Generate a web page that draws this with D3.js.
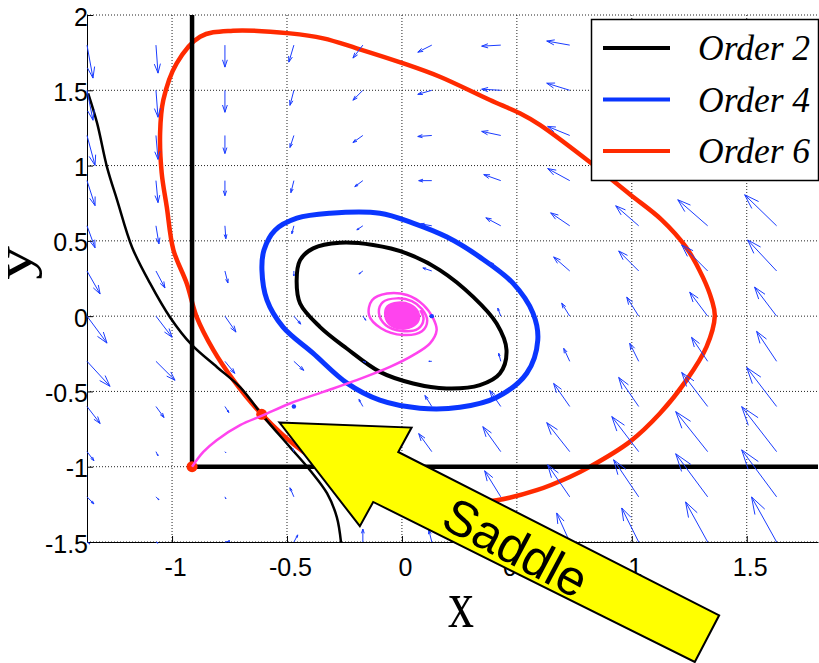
<!DOCTYPE html>
<html lang="en">
<head>
  <meta charset="UTF-8">
  <title>Saddle - phase portrait</title>
  <script src="https://cdnjs.cloudflare.com/ajax/libs/d3/7.8.5/d3.min.js"></script>
  <style>
    body {
      margin: 0;
      background: white;
    }
    svg {
      display: block;
      background: white;
    }
  </style>
</head>
<body>
  <script>
    // quiver grid (data units) and field values in hundredths of a data unit
    var xGrid = [-1.37, -1.07, -0.77, -0.47, -0.17, 0.13, 0.43, 0.73, 1.03, 1.33, 1.63];
    var yGrid = [1.8, 1.5, 1.2, 0.9, 0.6, 0.3, 0, -0.3, -0.6, -0.9, -1.2, -1.5];

    var U = [
      [2.6, 0.9, 0, -2.2, -4.3, -6.1, -8.3, -10, -12.2, -14.3, -16.5],
      [2.6, 0.9, 0, -1.7, -4.3, -6.1, -8.3, -10, -12.2, -14.3, -16.5],
      [3.5, 0.9, 0, -1.7, -4.3, -6.1, -8.3, -9.6, -11.7, -13.9, -16.1],
      [3.5, 0.9, 0, -1.3, -3.5, -5.7, -7.4, -9.6, -10.9, -12.6, -13.9],
      [3.5, 1.3, 0.4, -0.9, -2.6, -4.8, -6.5, -8.3, -10, -13, -13.9],
      [5.7, 3.9, 1.3, 0, -1.7, -3.9, -5.2, -7, -8.7, -11.3, -12.6],
      [8.7, 7, 4.8, 3, 1.3, 0, -1.3, -3.5, -5.2, -7.8, -9.6],
      [10, 8.3, 4.3, 4.3, 1.3, -1.3, -0.9, -2.6, -3.9, -7, -8.7],
      [5.7, 3.5, 1.7, 0, -1.7, -3, -4.8, -7, -8.7, -11.3, -13],
      [3, 0.9, 0.4, -0.4, -3.5, -5.7, -7.8, -10, -11.7, -13.9, -15.2],
      [3, 1.3, 0.4, -1.7, -2.2, -4.3, -7, -9.6, -10.9, -13.9, -15.2],
      [1.3, 0.9, 2.2, 1.7, 0, -1.3, -3.5, -5.7, -7.4, -9.6, -10.9]
    ];
    var V = [
      [-21.9, -18.6, -14.6, -11.3, -8.6, -4.7, -0.7, 2.7, 4.7, 6, 7.3],
      [-19.9, -17.9, -14.6, -10, -6.6, -2.7, 0.7, 4.7, 6.6, 8.6, 10.6],
      [-19.9, -15.9, -12, -8, -4.7, -0.7, 2.7, 6, 8.6, 11.3, 14],
      [-16.6, -14.6, -10, -8, -4, 0, 4, 8, 10.6, 14, 17.3],
      [-14.6, -12, -8.6, -5.3, -2.7, 1.3, 5.3, 8.6, 13.3, 17.3, 20.6],
      [-15.3, -11.3, -8, -3.3, -2, 2, 6, 9.3, 13.3, 17.3, 20.6],
      [-17.9, -14, -10.6, -5.3, -2.7, 0, 5.3, 8.6, 12.6, 15.9, 19.3],
      [-16.6, -12.6, -8, -6, -0.7, 0, 5.3, 8.6, 12, 15.9, 19.9],
      [-11.3, -7.3, -4, 0, 4.7, 7.3, 10.6, 15.3, 19.3, 22.6, 25.9],
      [-6, -2.7, -0.7, 2, 8, 12, 16.6, 19.3, 23.3, 26.6, 29.9],
      [-4.7, -2, -1.3, 6, 9.3, 13.3, 17.3, 21.3, 24.6, 28.6, 31.2],
      [-1.3, -0.7, 0.7, 4.7, 8.6, 8, 14.6, 19.3, 22.6, 26.6, 29.9]
    ];

    // level curves (x, y pairs)
    var order2 = [
      [-0.458, 0.239], [-0.443, 0.372], [-0.386, 0.450], [-0.270, 0.487], [-0.125, 0.472],
      [0.020, 0.417], [0.165, 0.306], [0.310, 0.128], [0.412, -0.049], [0.455, -0.226],
      [0.426, -0.381], [0.339, -0.458], [0.194, -0.480], [0.049, -0.447], [-0.096, -0.370],
      [-0.240, -0.215], [-0.357, -0.071], [-0.443, 0.084]
    ];
    var order2Branch = [
      [-1.365, 1.48], [-1.326, 1.282], [-1.283, 0.990], [-1.239, 0.771], [-1.174, 0.458],
      [-1.096, 0.219], [-1.009, -0.007], [-0.913, -0.193], [-0.804, -0.339], [-0.704, -0.472],
      [-0.604, -0.664], [-0.487, -0.870], [-0.400, -1.023], [-0.326, -1.176], [-0.283, -1.336],
      [-0.265, -1.502]
    ];
    var order4 = [
      [-0.313, 0.684], [-0.096, 0.684], [0.048, 0.618], [0.196, 0.525], [0.339, 0.392],
      [0.483, 0.219], [0.570, 0.020], [0.591, -0.159], [0.543, -0.379], [0.413, -0.538],
      [0.252, -0.605], [0.078, -0.611], [-0.096, -0.558], [-0.239, -0.445], [-0.387, -0.246],
      [-0.517, -0.073], [-0.587, 0.106], [-0.609, 0.306], [-0.600, 0.439], [-0.552, 0.571],
      [-0.457, 0.651]
    ];
    var order6 = [
      [-0.487, 1.878], [-0.735, 1.896], [-0.878, 1.856], [-0.980, 1.679], [-1.038, 1.435],
      [-1.052, 1.216], [-1.045, 0.950], [-1.023, 0.726], [-0.994, 0.439], [-0.936, 0.217],
      [-0.893, -0.005], [-0.820, -0.226], [-0.733, -0.425], [-0.617, -0.640], [-0.430, -0.900],
      [-0.226, -1.080], [0.078, -1.215], [0.300, -1.235], [0.412, -1.223], [0.586, -1.156],
      [0.730, -1.068], [0.817, -1.001], [0.991, -0.835], [1.122, -0.647], [1.238, -0.425],
      [1.325, -0.204], [1.361, 0.0], [1.348, 0.106], [1.309, 0.259], [1.235, 0.460],
      [1.130, 0.640], [0.991, 0.810], [0.803, 1.040], [0.600, 1.270],
      [0.513, 1.347], [0.383, 1.435], [0.165, 1.590], [0.006, 1.679], [-0.197, 1.779],
      [-0.342, 1.845]
    ];

    // trajectory from the corner point into the focus
    var trajectory = [
      [-0.913, -1.0], [-0.864, -0.902], [-0.806, -0.824], [-0.704, -0.724], [-0.603, -0.658],
      [-0.487, -0.580], [-0.342, -0.503], [-0.197, -0.425], [-0.052, -0.337], [0.049, -0.259],
      [0.122, -0.181], [0.151, -0.093], [0.136, -0.015], [0.093, 0.075], [0.022, 0.140],
      [-0.065, 0.150], [-0.130, 0.106], [-0.143, 0.007], [-0.091, -0.080], [0.004, -0.125],
      [0.087, -0.100], [0.110, -0.030], [0.087, 0.047], [0.043, 0.100], [-0.022, 0.118],
      [-0.083, 0.093], [-0.100, 0.020], [-0.070, -0.060], [0.000, -0.098], [0.070, -0.084],
      [0.094, -0.020], [0.080, 0.040]
    ];
    var focusBlob = [
      [-0.065, 0.066], [-0.017, 0.093], [0.035, 0.080], [0.070, 0.033], [0.074, -0.027],
      [0.043, -0.073], [-0.004, -0.086], [-0.052, -0.060], [-0.074, 0.0]
    ];

    var cornerX = -0.913;
    var cornerY = -1;
    var markers = [[-0.913, -1.0], [-0.61, -0.652]];

    var xTicks = [-1, -0.5, 0, 0.5, 1, 1.5];
    var yTicks = [-1.5, -1, -0.5, 0, 0.5, 1, 1.5, 2];

    var legendNames = ["Order 2", "Order 4", "Order 6"];
    var legendColors = ["#000000", "#0a36ff", "#ff2a00"];

    // annotation arrow, data coordinates
    var saddleArrow = [
      [-0.533, -0.706], [0.042, -0.740], [-0.016, -0.902], [1.380, -1.987],
      [1.274, -2.297], [-0.125, -1.234], [-0.183, -1.395]
    ];

    var w = 819;
    var h = 663;

    var svg = d3.select("body").append("svg")
      .attr("width", w)
      .attr("height", h);

    var xScale = d3.scaleLinear()
      .domain([-1.37, 1.81])
      .range([87, 818]);
    var yScale = d3.scaleLinear()
      .domain([-1.5, 2])
      .range([542, 15]);

    // dotted grid
    svg.append("g").selectAll("line")
      .data(xTicks)
      .enter()
      .append("line")
      .attr("x1", function(d) { return xScale(d); })
      .attr("x2", function(d) { return xScale(d); })
      .attr("y1", yScale(2))
      .attr("y2", yScale(-1.5))
      .attr("stroke", "#222")
      .attr("stroke-width", 1)
      .attr("stroke-dasharray", "1,2");
    svg.append("g").selectAll("line")
      .data(yTicks)
      .enter()
      .append("line")
      .attr("x1", xScale(-1.37))
      .attr("x2", xScale(1.81))
      .attr("y1", function(d) { return yScale(d); })
      .attr("y2", function(d) { return yScale(d); })
      .attr("stroke", "#222")
      .attr("stroke-width", 1)
      .attr("stroke-dasharray", "1,2");

    // axes
    var xAxis = d3.axisBottom(xScale)
      .tickValues(xTicks)
      .tickSizeInner(-6)
      .tickSizeOuter(0)
      .tickPadding(16)
      .tickFormat(function(d) { return String(d); });
    var yAxis = d3.axisLeft(yScale)
      .tickValues(yTicks)
      .tickSizeInner(-6)
      .tickSizeOuter(0)
      .tickPadding(0)
      .tickFormat(function(d) { return String(d); });

    var gx = svg.append("g")
      .attr("transform", "translate(0," + yScale(-1.5) + ")")
      .call(xAxis);
    var gy = svg.append("g")
      .attr("transform", "translate(" + xScale(-1.37) + ",0)")
      .call(yAxis);
    [gx, gy].forEach(function(g) {
      g.selectAll("text")
        .attr("font-family", "'Liberation Sans', Arial, sans-serif")
        .attr("font-size", 25)
        .attr("fill", "#000");
      g.selectAll("path, line").attr("stroke", "#000");
    });
    gx.selectAll("text").attr("dx", 3);
    gy.selectAll("text").attr("dx", 1).attr("dy", "0.4em");

    var straightLine = d3.line()
      .x(function(d) { return xScale(d[0]); })
      .y(function(d) { return yScale(d[1]); });
    var closedCurve = d3.line()
      .x(function(d) { return xScale(d[0]); })
      .y(function(d) { return yScale(d[1]); })
      .curve(d3.curveCatmullRomClosed);
    var openCurve = d3.line()
      .x(function(d) { return xScale(d[0]); })
      .y(function(d) { return yScale(d[1]); })
      .curve(d3.curveCatmullRom);

    var curves = svg.append("g").attr("fill", "none").attr("stroke-linejoin", "round");
    curves.append("path").attr("d", closedCurve(order6))
      .attr("stroke", legendColors[2]).attr("stroke-width", 4.5);
    curves.append("path").attr("d", closedCurve(order4))
      .attr("stroke", legendColors[1]).attr("stroke-width", 5);
    curves.append("path").attr("d", closedCurve(order2))
      .attr("stroke", legendColors[0]).attr("stroke-width", 4);
    curves.append("path").attr("d", openCurve(order2Branch))
      .attr("stroke", legendColors[0]).attr("stroke-width", 2.5);

    // thick corner lines
    curves.append("path")
      .attr("d", straightLine([[cornerX, 2], [cornerX, cornerY], [1.81, cornerY]]))
      .attr("stroke", "#000")
      .attr("stroke-width", 4.5)
      .attr("stroke-linejoin", "miter");

    svg.append("g").selectAll("circle")
      .data(markers)
      .enter()
      .append("circle")
      .attr("cx", function(d) { return xScale(d[0]); })
      .attr("cy", function(d) { return yScale(d[1]); })
      .attr("r", 5.5)
      .attr("fill", "#ff2a00");

    var magenta = "#ff44ee";
    svg.append("path")
      .attr("d", openCurve(trajectory))
      .attr("fill", "none")
      .attr("stroke", magenta)
      .attr("stroke-width", 2.5);
    svg.append("path")
      .attr("d", closedCurve(focusBlob))
      .attr("fill", magenta)
      .attr("stroke", magenta)
      .attr("stroke-width", 1.5);

    // quiver
    var arrows = [];
    yGrid.forEach(function(yv, i) {
      xGrid.forEach(function(xv, j) {
        arrows.push({ x: xv, y: yv, u: U[i][j] / 100, v: V[i][j] / 100 });
      });
    });

    var quiver = svg.append("g")
      .attr("stroke", "#1a3cff")
      .attr("fill", "none")
      .attr("stroke-width", 1);

    arrows.forEach(function(a) {
      var x0 = xScale(a.x), y0 = yScale(a.y);
      var x1 = xScale(a.x + a.u), y1 = yScale(a.y + a.v);
      var dx = x1 - x0, dy = y1 - y0;
      if (a.u === 0 && a.v === 0) {
        quiver.append("circle")
          .attr("cx", x0).attr("cy", y0).attr("r", 2.2)
          .attr("fill", "#1a3cff").attr("stroke", "none");
        return;
      }
      var alpha = 0.33, beta = 0.33;
      var hx1 = x1 - alpha * (dx + beta * dy), hy1 = y1 - alpha * (dy - beta * dx);
      var hx2 = x1 - alpha * (dx - beta * dy), hy2 = y1 - alpha * (dy + beta * dx);
      quiver.append("path")
        .attr("d", "M" + x0 + "," + y0 + "L" + x1 + "," + y1 +
          "M" + hx1 + "," + hy1 + "L" + x1 + "," + y1 + "L" + hx2 + "," + hy2);
    });

    // legend
    var legend = svg.append("g");
    legend.append("rect")
      .attr("x", 591.5).attr("y", 19.5)
      .attr("width", 227).attr("height", 161)
      .attr("fill", "white")
      .attr("stroke", "#000")
      .attr("stroke-width", 1.5);
    legendNames.forEach(function(name, i) {
      var ly = 48 + i * 51.5;
      legend.append("line")
        .attr("x1", 603).attr("x2", 670)
        .attr("y1", ly).attr("y2", ly)
        .attr("stroke", legendColors[i])
        .attr("stroke-width", 4);
      legend.append("text")
        .attr("x", 698).attr("y", ly + 12)
        .attr("font-family", "'Liberation Serif', 'Times New Roman', serif")
        .attr("font-style", "italic")
        .attr("font-size", 35.5)
        .text(name);
    });

    // axis titles
    svg.append("text")
      .attr("transform", "translate(461,627) scale(1,1.3)")
      .attr("text-anchor", "middle")
      .attr("font-family", "'Liberation Serif', 'Times New Roman', serif")
      .attr("font-size", 52)
      .text("x");
    svg.append("text")
      .attr("transform", "translate(31,263) rotate(-90) scale(1.35,1)")
      .attr("text-anchor", "middle")
      .attr("font-family", "'Liberation Serif', 'Times New Roman', serif")
      .attr("font-size", 50)
      .text("y");

    // saddle annotation
    svg.append("path")
      .attr("d", straightLine(saddleArrow) + "Z")
      .attr("fill", "#ffff00")
      .attr("stroke", "#000")
      .attr("stroke-width", 2)
      .attr("stroke-linejoin", "miter");
    svg.append("text")
      .attr("transform", "translate(" + xScale(0.495) + "," + yScale(-1.535) + ") rotate(28)")
      .attr("text-anchor", "middle")
      .attr("dy", "0.35em")
      .attr("font-family", "'Liberation Sans', Arial, sans-serif")
      .attr("font-size", 50)
      .text("Saddle");
  </script>
</body>
</html>
